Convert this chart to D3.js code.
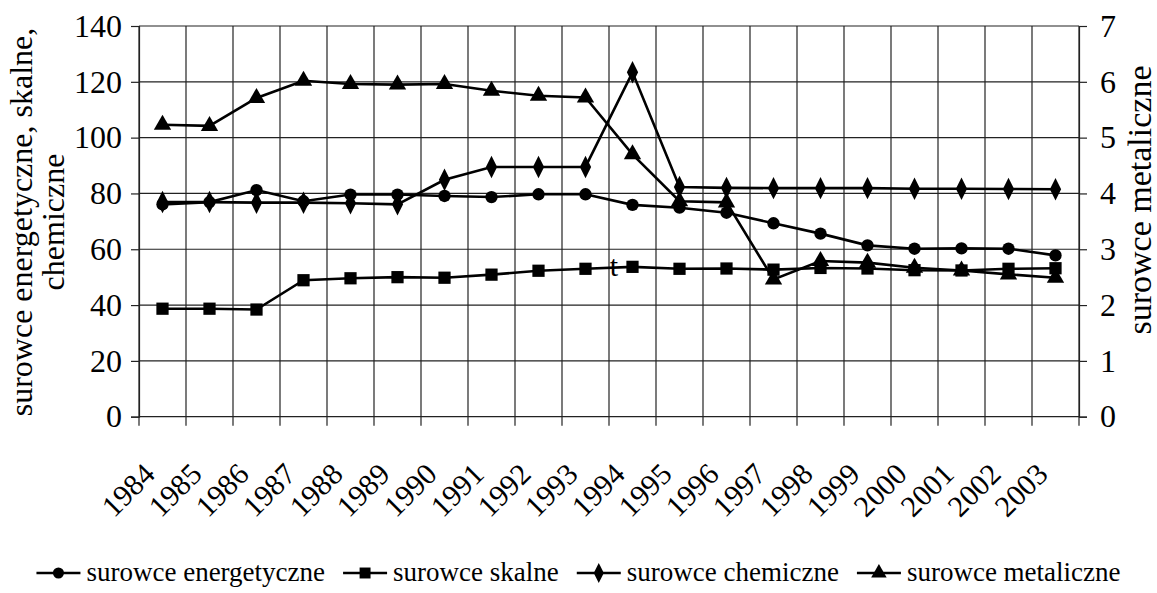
<!DOCTYPE html>
<html><head><meta charset="utf-8">
<script src="https://cdn.jsdelivr.net/npm/d3@7"></script>
</head><body style="margin:0"><svg id="c" width="1157" height="593"></svg>
<script>
const years = ["1984","1985","1986","1987","1988","1989","1990","1991","1992","1993","1994","1995","1996","1997","1998","1999","2000","2001","2002","2003"];
const energetyczne = [76.1,76.9,81.2,77.2,79.6,79.6,79.1,78.7,79.7,79.7,75.9,74.9,73.1,69.3,65.6,61.4,60.2,60.3,60.2,57.8];
const skalne = [38.7,38.7,38.4,48.9,49.6,50.0,49.8,50.9,52.3,53.0,53.7,53.0,53.1,52.7,53.3,53.1,52.5,52.4,53.0,53.2];
const chemiczne = [76.9,76.9,76.7,76.7,76.5,76.1,84.9,89.5,89.5,89.5,123.4,82.3,82.0,81.9,81.9,81.9,81.7,81.7,81.6,81.5];
const metaliczne = [5.23,5.21,5.71,6.02,5.96,5.95,5.96,5.84,5.75,5.72,4.70,3.86,3.84,2.46,2.79,2.76,2.67,2.62,2.55,2.49];
const leftTicks = [0,20,40,60,80,100,120,140];
const rightTicks = [0,1,2,3,4,5,6,7];
const seriesNames = ["surowce energetyczne","surowce skalne","surowce chemiczne","surowce metaliczne"];
const leftTitle = ["surowce energetyczne, skalne,","chemiczne"];
const rightTitle = "surowce metaliczne";

const fam = ["Liberation Serif"];
const FONT = `"${fam[0]}", monospace`;
const svg = d3.select("#c");
const L=139, R=1079, T=26, B=416.7;
const x = d3.scaleBand().domain(years).range([L,R]);
const yL = d3.scaleLinear().domain([0,140]).range([B,T]);
const yR = d3.scaleLinear().domain([0,7]).range([B,T]);
const cx = d => x(d)+x.bandwidth()/2;
const txt = (sel, size) => sel.attr("font-size",size).style("font-family",FONT).attr("fill","#000");

const grid = svg.append("g").attr("stroke","#222").attr("stroke-width",1.2);
leftTicks.forEach(v=>grid.append("line").attr("x1",L).attr("x2",R).attr("y1",yL(v)).attr("y2",yL(v)));
years.forEach(yr=>grid.append("line").attr("x1",x(yr)).attr("x2",x(yr)).attr("y1",T).attr("y2",B+9));
grid.append("line").attr("x1",R).attr("x2",R).attr("y1",T).attr("y2",B+9);

const ax = svg.append("g").attr("transform",`translate(${L},0)`).call(d3.axisLeft(yL).tickValues(leftTicks).tickFormat(d3.format("d")).tickSize(8).tickPadding(9));
const ar = svg.append("g").attr("transform",`translate(${R},0)`).call(d3.axisRight(yR).tickValues(rightTicks).tickFormat(d3.format("d")).tickSize(8).tickPadding(13));
[ax,ar].forEach(a=>{a.attr("font-family",null).attr("font-size",null);
  a.select(".domain").attr("stroke","#222").attr("stroke-width",1.2);
  a.selectAll(".tick line").attr("stroke","#222").attr("stroke-width",1.2);
  txt(a.selectAll("text"),32);});

txt(svg.append("g").selectAll("text").data(years).join("text")
  .attr("transform",d=>`translate(${cx(d)-6},${476}) rotate(-45)`)
  .attr("text-anchor","end").text(d=>d),30);

leftTitle.forEach((t,i)=>txt(svg.append("text").attr("transform",`translate(${[32,64][i]},222) rotate(-90)`)
  .attr("text-anchor","middle").text(t),32));
txt(svg.append("text").attr("transform",`translate(1151,200) rotate(-90)`).attr("text-anchor","middle").text(rightTitle),34);

const symbols = [d3.symbolCircle,d3.symbolSquare,d3.symbolDiamond,d3.symbolTriangle];
const sizes = [120,150,110,130];
const data = [energetyczne,skalne,chemiczne,metaliczne];
const scales = [yL,yL,yL,yR];
data.forEach((vals,i)=>{
  const pts = vals.map((v,j)=>[cx(years[j]),scales[i](v)]);
  svg.append("path").attr("d",d3.line()(pts)).attr("fill","none").attr("stroke","#000").attr("stroke-width",2.6);
  svg.append("g").selectAll("path").data(pts).join("path")
    .attr("transform",p=>`translate(${p[0]},${p[1]})`+(i==2?" scale(1,1.15)":""))
    .attr("d",d3.symbol().type(symbols[i]).size(sizes[i])).attr("fill","#000");
});
txt(svg.append("text").attr("x",614).attr("y",276).attr("text-anchor","middle").text("t"),30);

const lg = svg.append("g");
const fs=27;
const items = seriesNames.map(n=>txt(lg.append("text").text(n),fs));
const widths = items.map(t=>t.node().getComputedTextLength());
const mk=44, gap1=6, gap2=18;
const total = d3.sum(widths)+seriesNames.length*(mk+gap1)+(seriesNames.length-1)*gap2;
let xx = (1157-total)/2;
const ly=573;
seriesNames.forEach((n,i)=>{
  lg.append("line").attr("x1",xx).attr("x2",xx+mk).attr("y1",ly).attr("y2",ly).attr("stroke","#000").attr("stroke-width",2.6);
  lg.append("path").attr("transform",`translate(${xx+mk/2},${ly})`+(i==2?" scale(1,1.15)":"")).attr("d",d3.symbol().type(symbols[i]).size(sizes[i]*0.8)).attr("fill","#000");
  items[i].attr("x",xx+mk+gap1).attr("y",ly+8);
  xx += mk+gap1+widths[i]+gap2;
});
</script></body></html>
